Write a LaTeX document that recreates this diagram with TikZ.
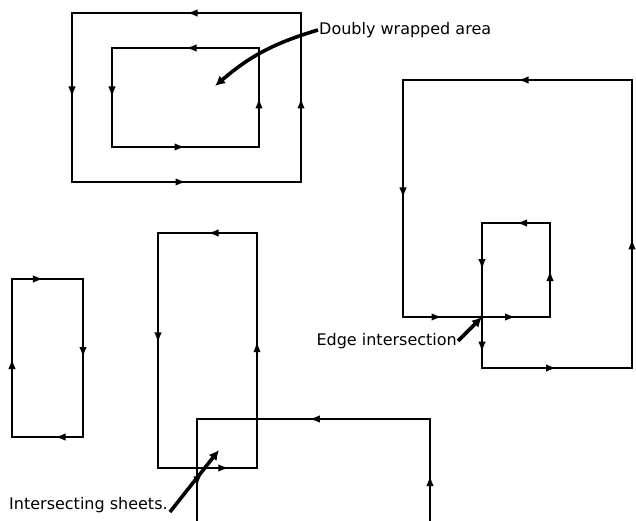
\documentclass[tikz,border=0pt]{standalone}
\usepackage{fontspec}
\setmainfont{DejaVu Sans}
\usetikzlibrary{arrows.meta,decorations.markings}

\tikzset{
  sheet/.style={line width=2.2pt,line cap=round,line join=round},
  flow/.style={sheet,postaction={decorate},
    decoration={markings,mark=at position #1 with {\arrow{Latex[length=11pt,width=7.5pt]}}}},
  flow/.default=0.5,
  pointer/.style={line width=3.6pt,-{Latex[length=10pt,width=10pt]}},
  note/.style={font=\fontsize{16}{18}\selectfont,inner sep=1pt}
}

\begin{document}
\begin{tikzpicture}[x=1pt,y=-1pt]
  \useasboundingbox (0,0) rectangle (636,521);

  % doubly wrapped pair
  \coordinate (oa) at (72,13);  \coordinate (ob) at (301,13);
  \coordinate (oc) at (301,182); \coordinate (od) at (72,182);
  \coordinate (ia) at (112,48); \coordinate (ib) at (259,48);
  \coordinate (ic) at (259,147); \coordinate (id) at (112,147);
  \draw[flow] (ob) -- (oa);
  \draw[flow] (oa) -- (od);
  \draw[flow] (od) -- (oc);
  \draw[flow] (oc) -- (ob);
  \draw[flow] (ib) -- (ia);
  \draw[flow] (ia) -- (id);
  \draw[flow] (id) -- (ic);
  \draw[flow] (ic) -- (ib);
  \coordinate (dwtip) at (215,86);
  \node[note,anchor=west] (dwlabel) at (318,30) {Doubly wrapped area};
  \draw[pointer] (dwlabel.west) to[bend right=12] (dwtip);

  % outline crossing itself
  \coordinate (r1) at (632,80);  \coordinate (r2) at (403,80);
  \coordinate (r3) at (403,317); \coordinate (rx) at (482,317);
  \coordinate (r4) at (550,317); \coordinate (r5) at (550,223);
  \coordinate (r6) at (482,223); \coordinate (r7) at (482,368);
  \coordinate (r8) at (632,368);
  \draw[flow] (r1) -- (r2);
  \draw[flow] (r2) -- (r3);
  \draw[flow] (r3) -- (rx);
  \draw[flow] (rx) -- (r4);
  \draw[flow] (r4) -- (r5);
  \draw[flow] (r5) -- (r6);
  \draw[flow] (r6) -- (rx);
  \draw[flow=0.7] (rx) -- (r7);
  \draw[flow] (r7) -- (r8);
  \draw[flow=0.45] (r8) -- (r1);
  \node[note,anchor=east] (eilabel) at (458,341) {Edge intersection};
  \draw[pointer] (eilabel.east) -- (rx);

  % single sheet
  \coordinate (sa) at (12,279); \coordinate (sb) at (83,279);
  \coordinate (sc) at (83,437); \coordinate (sd) at (12,437);
  \draw[flow] (sd) -- (sa);
  \draw[flow=0.45] (sa) -- (sb);
  \draw[flow] (sb) -- (sc);
  \draw[flow=0.4] (sc) -- (sd);

  % intersecting sheets
  \coordinate (ta) at (158,233); \coordinate (tb) at (257,233);
  \coordinate (tc) at (257,468); \coordinate (td) at (158,468);
  \draw[flow] (tb) -- (ta);
  \draw[flow=0.47] (ta) -- (td);
  \draw[flow=0.72] (td) -- (tc);
  \draw[flow=0.54] (tc) -- (tb);
  \coordinate (ua) at (197,419); \coordinate (ub) at (430,419);
  \coordinate (uc) at (430,521); \coordinate (ud) at (197,521);
  \draw[flow=0.52] (ub) -- (ua);
  \draw[flow=0.67] (ua) -- (ud);
  \draw[flow=0.45] (uc) -- (ub);
  \coordinate (istip) at (219,450);
  \node[note,anchor=west] (islabel) at (8,505) {Intersecting sheets.};
  \draw[pointer] (islabel.east) ++(1,7) coordinate (istail) (istail) -- (istip);
\end{tikzpicture}
\end{document}
